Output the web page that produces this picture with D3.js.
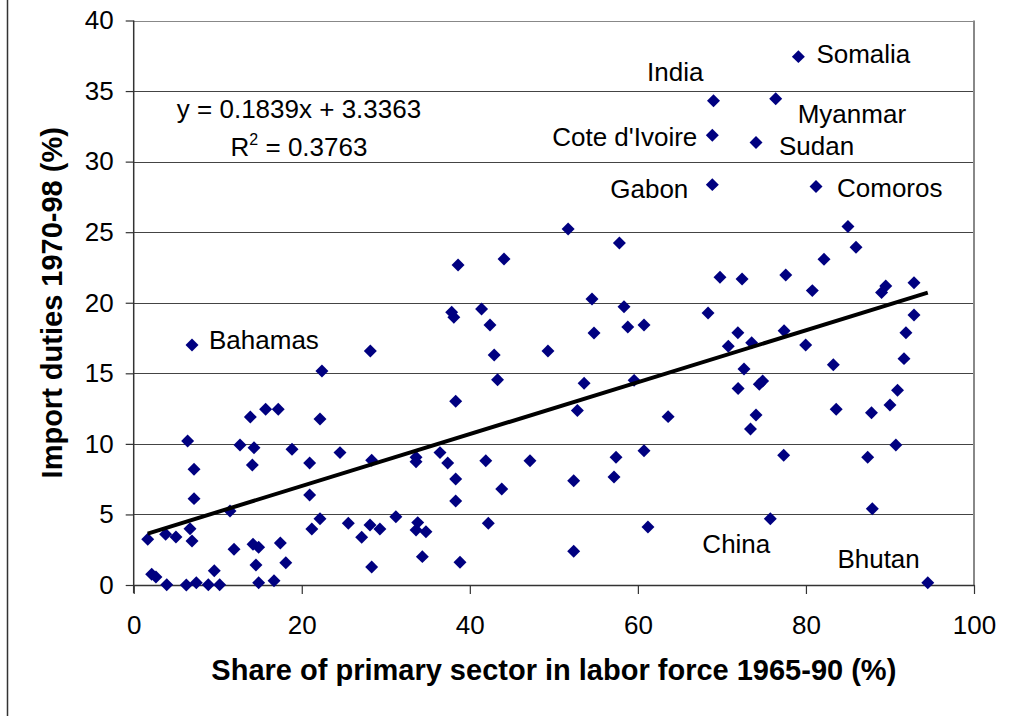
<!DOCTYPE html>
<html>
<head>
<meta charset="utf-8">
<script src="https://cdn.jsdelivr.net/npm/d3@7"></script>
<style>
  body { margin: 0; background: #fff; }
  svg text { font-family: Arial, "Liberation Sans", sans-serif; }
</style>
</head>
<body>
<svg id="chart" width="1009" height="716"></svg>
<script>
// share of primary sector in labor force (%), unlabelled countries
var primaryShare = [
  1.67, 2.14, 2.65, 3.8, 3.93, 5.03, 6.26, 6.42, 6.7, 7.18, 7.18, 6.94, 7.45, 8.88, 9.59, 10.23,
  11.46, 11.94, 12.65, 13.88, 14.12, 14.32, 14.2, 14.87, 14.55, 14.87, 15.7, 17.2, 17.45, 16.7,
  18.1, 18.84, 20.94, 20.94, 21.2, 22.17, 22.17, 24.55, 28.32, 33.6, 33.6, 36.45, 37.37, 38.32,
  38.32, 41.9, 47.16, 43.8, 38.32, 43.3, 25.54, 27.13, 28.12, 29.3, 31.2, 33.8, 33.6, 34.78,
  28.32, 34.35, 38.83, 42.2, 53.6, 59.55, 52.8, 63.6, 71.93, 74.06, 73.4, 60.73, 57.4, 57.16,
  52.36, 61.2, 52.36, 74.45, 74.85, 83.6, 87.8, 90.0, 90.9, 77.35, 87.35, 90.7, 87.9, 22.4,
  28.16, 51.7, 57.8, 38.6, 44.07, 37.84, 38.1, 41.4, 42.4, 42.9, 49.3, 54.54, 54.78, 58.35,
  58.8, 60.73, 85.0, 85.96, 82.15, 69.77, 72.4, 77.6, 80.76, 89.5, 89.0, 92.86, 68.35, 92.86,
  91.9, 71.9, 70.76, 73.54, 77.4, 79.97, 83.26, 91.67, 72.63
];
// import duties 1970-98 (%), same order
var importDuties = [
  3.24, 0.76, 0.57, 3.59, 0.02, 3.4, 0.0, 10.2, 3.99, 8.2, 6.12, 3.12, 0.16, 0.02, 1.01, 0.02,
  5.24, 2.53, 9.92, 11.9, 8.5, 9.73, 2.88, 2.67, 1.42, 0.16, 12.45, 12.45, 2.98, 0.3,
  1.58, 9.62, 8.64, 6.38, 3.97, 11.76, 4.7, 9.38, 8.84, 9.05, 8.74, 9.38, 8.65, 7.51,
  5.95, 8.81, 8.81, 6.8, 13.02, 14.55, 4.37, 3.38, 4.25, 3.97, 4.84, 4.42, 3.9, 3.78,
  1.28, 2.01, 1.61, 4.37, 14.3, 14.5, 12.36, 11.93, 13.92, 12.05, 11.05, 9.52, 9.05, 7.65,
  7.39, 4.11, 2.39, 14.22, 14.46, 12.45, 12.21, 12.76, 13.8, 9.19, 9.05, 9.92, 5.41, 15.17,
  16.58, 25.23, 24.24, 22.68, 23.1, 19.33, 18.97, 19.56, 18.43, 16.3, 16.58, 20.27, 17.86, 19.72,
  18.28, 18.43, 25.4, 23.93, 23.08, 21.8, 21.69, 21.97, 20.86, 21.19, 20.72, 21.42, 19.28, 19.13,
  17.88, 17.88, 16.92, 17.17, 18.02, 17.0, 15.61, 16.04, 15.3
];

// labelled countries
var labelNames = ["Somalia", "India", "Myanmar", "Cote d'Ivoire", "Sudan", "Gabon", "Comoros", "Bahamas", "China", "Bhutan"];
var labelShare = [79.1, 69.0, 76.4, 68.86, 74.06, 68.86, 81.2, 6.94, 75.76, 94.5];
var labelDuties = [37.44, 34.32, 34.46, 31.87, 31.35, 28.37, 28.23, 17.0, 4.7, 0.16];

var xTicks = [0, 20, 40, 60, 80, 100];
var yTicks = [0, 5, 10, 15, 20, 25, 30, 35, 40];

// linear trend shown on the chart
var trendSlope = 0.1839;
var trendIntercept = 3.3363;
var trendR2 = 0.3763;

// where each label sits relative to its marker (px)
var labelPlace = {
  "Somalia": [18, 6, "start"],
  "India": [-10, -20, "end"],
  "Myanmar": [22, 24, "start"],
  "Cote d'Ivoire": [-15, 11, "end"],
  "Sudan": [23, 12, "start"],
  "Gabon": [-24, 13, "end"],
  "Comoros": [21, 10, "start"],
  "Bahamas": [17, 4, "start"],
  "China": [0, 34, "end"],
  "Bhutan": [-8, -15, "end"]
};

var svg = d3.select("#chart");
var x = d3.scaleLinear().domain([0, 100]).range([133.7, 974]);
var y = d3.scaleLinear().domain([0, 40]).range([585, 20.5]);

// page frame line on the left
svg.append("line")
  .attr("x1", 7.5).attr("x2", 7.5).attr("y1", 0).attr("y2", 716)
  .attr("stroke", "#333").attr("stroke-width", 1.5);

// horizontal gridlines
svg.append("g").selectAll("line")
  .data(yTicks.filter(function(d) { return d > 0; }))
  .enter().append("line")
  .attr("x1", x(0)).attr("x2", x(100))
  .attr("y1", function(d) { return Math.round(y(d)) + 0.5; })
  .attr("y2", function(d) { return Math.round(y(d)) + 0.5; })
  .attr("stroke", function(d) { return d == 40 ? "#888" : "#444"; })
  .attr("stroke-width", 1.2);

// right border of plot area
svg.append("line")
  .attr("x1", x(100)).attr("x2", x(100)).attr("y1", y(40)).attr("y2", y(0))
  .attr("stroke", "#888").attr("stroke-width", 2);

// axes
var xAxis = svg.append("g")
  .attr("transform", "translate(0," + y(0) + ")")
  .call(d3.axisBottom(x).tickValues(xTicks).tickSize(9).tickPadding(22).tickSizeOuter(0));
var yAxis = svg.append("g")
  .attr("transform", "translate(" + x(0) + ",0)")
  .call(d3.axisLeft(y).tickValues(yTicks).tickSize(8).tickPadding(12).tickSizeOuter(0));

[xAxis, yAxis].forEach(function(ax) {
  ax.select(".domain").attr("stroke", "#333").attr("stroke-width", 1.5);
  ax.selectAll(".tick line").attr("stroke", "#333").attr("stroke-width", 1.2);
  ax.selectAll(".tick text").attr("fill", "#000").style("font-size", "26px")
    .style("font-family", "Arial, 'Liberation Sans', sans-serif");
});
yAxis.select(".domain").attr("d", "M0," + y(40) + "V" + (y(0) + 8));

// markers
var diamond = d3.symbol().type(d3.symbolSquare).size(84);
var allShare = primaryShare.concat(labelShare);
var allDuties = importDuties.concat(labelDuties);

svg.append("g").selectAll("path")
  .data(allShare)
  .enter().append("path")
  .attr("d", diamond)
  .attr("transform", function(d, i) {
    return "translate(" + x(d) + "," + y(allDuties[i]) + ") rotate(45)";
  })
  .attr("fill", "#000080");

// trend line
var ext = d3.extent(allShare);
svg.append("line")
  .attr("x1", x(ext[0])).attr("y1", y(trendSlope * ext[0] + trendIntercept))
  .attr("x2", x(ext[1])).attr("y2", y(trendSlope * ext[1] + trendIntercept))
  .attr("stroke", "#000").attr("stroke-width", 4);

// country labels
svg.append("g").selectAll("text")
  .data(labelNames)
  .enter().append("text")
  .attr("x", function(d, i) { return x(labelShare[i]) + labelPlace[d][0]; })
  .attr("y", function(d, i) { return y(labelDuties[i]) + labelPlace[d][1]; })
  .attr("text-anchor", function(d) { return labelPlace[d][2]; })
  .style("font-size", "26px")
  .text(function(d) { return d; });

// equation
svg.append("text")
  .attr("x", 299).attr("y", 118)
  .attr("text-anchor", "middle")
  .style("font-size", "26px")
  .text("y = " + trendSlope + "x + " + trendIntercept);
var r2 = svg.append("text")
  .attr("x", 299).attr("y", 156)
  .attr("text-anchor", "middle")
  .style("font-size", "26px");
r2.append("tspan").text("R");
r2.append("tspan").attr("dy", -11).style("font-size", "16px").text("2");
r2.append("tspan").attr("dy", 11).text(" = " + trendR2);

// axis titles
svg.append("text")
  .attr("x", (x(0) + x(100)) / 2).attr("y", 680)
  .attr("text-anchor", "middle")
  .style("font-size", "29px").style("font-weight", "bold")
  .text("Share of primary sector in labor force 1965-90 (%)");
svg.append("text")
  .attr("transform", "translate(62," + (y(0) + y(40)) / 2 + ") rotate(-90)")
  .attr("text-anchor", "middle")
  .style("font-size", "29px").style("font-weight", "bold")
  .text("Import duties 1970-98 (%)");
</script>
</body>
</html>
